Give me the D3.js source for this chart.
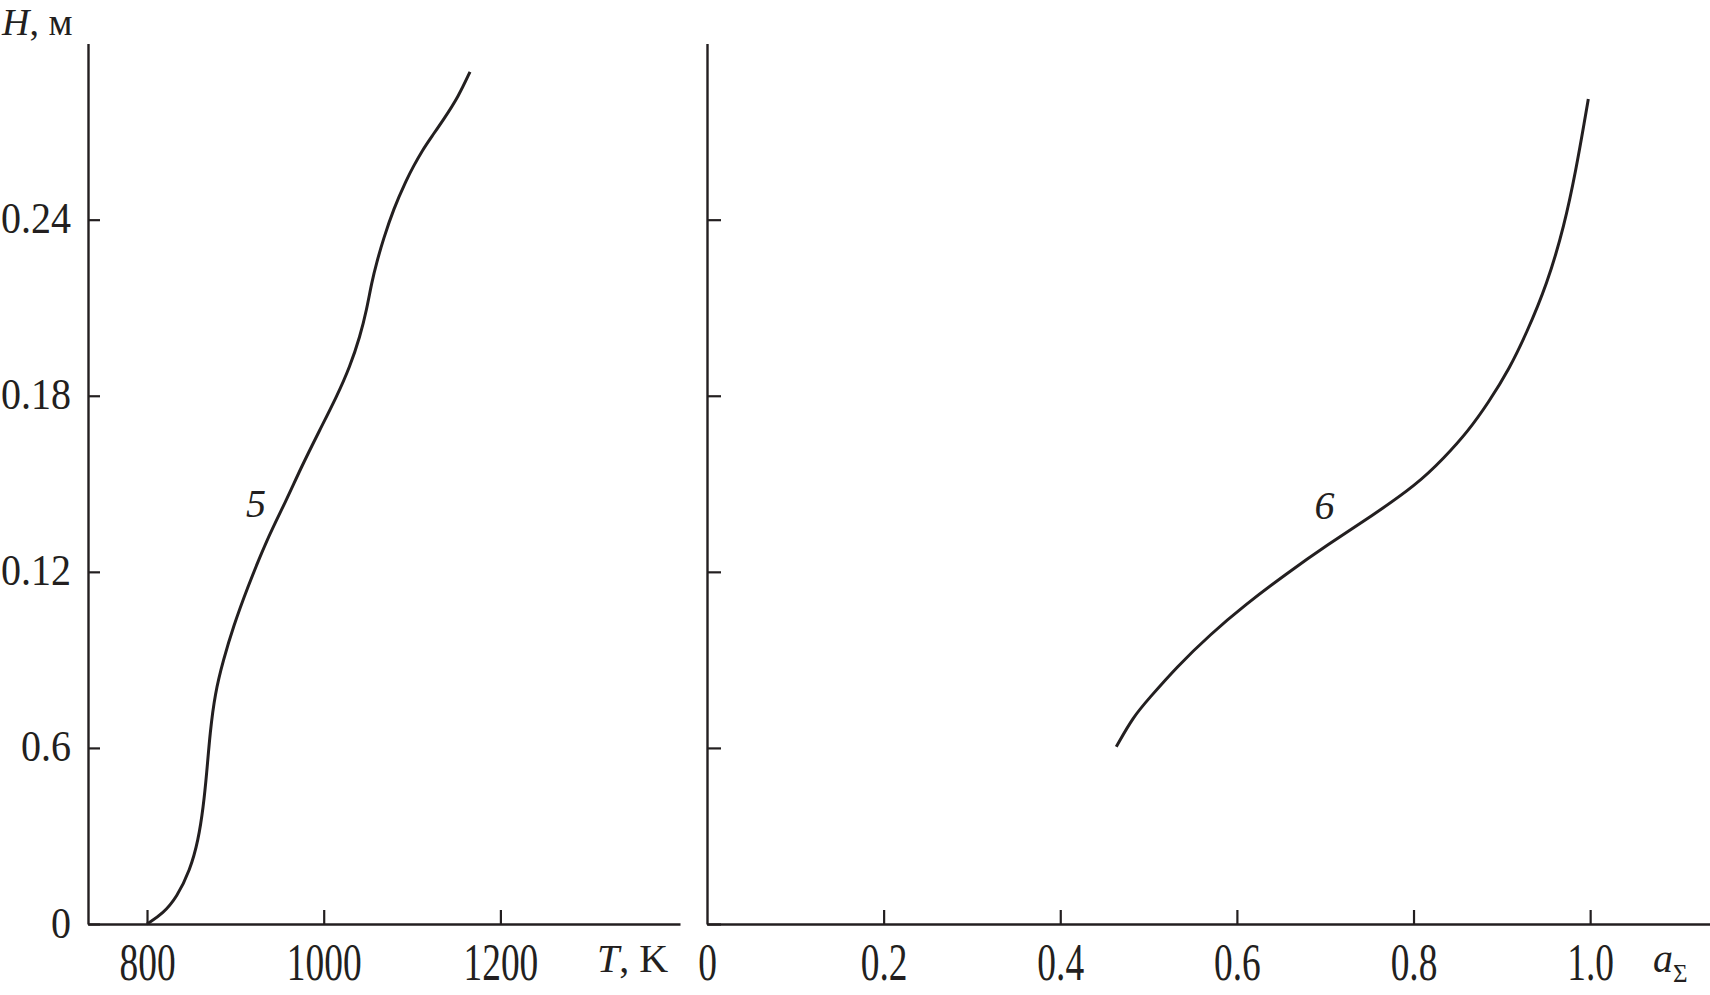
<!DOCTYPE html>
<html>
<head>
<meta charset="utf-8">
<script src="https://cdn.jsdelivr.net/npm/d3@7"></script>
<style>
  html, body { margin: 0; padding: 0; background: #fff; }
  svg { display: block; }
  text { font-family: "Liberation Serif", "Times New Roman", serif; fill: #231f20; }
</style>
</head>
<body>
<svg id="chart" width="1710" height="995"></svg>
<script>
// ---- data ----
const hTicks = [0, 0.06, 0.12, 0.18, 0.24];
const hTickLabels = ["0", "0.6", "0.12", "0.18", "0.24"];
const tTicks = [800, 1000, 1200];
const aTicks = [0, 0.2, 0.4, 0.6, 0.8, 1.0];
const aTickLabels = ["0", "0.2", "0.4", "0.6", "0.8", "1.0"];

// curve 5: temperature T (K) vs height H (m)
const curve5T = [800, 818.5, 833.6, 848.7, 858.1, 863.7, 867.6, 871.3, 877, 886.4, 897.7, 912.8, 935.5, 958.1, 973.2, 995.8, 1014.7, 1029.8, 1041.1, 1048.7, 1054.3, 1060, 1067.5, 1078.8, 1094, 1101.4, 1112.0, 1122.2, 1135.4, 1152.4, 1165.6];
const curve5H = [0, 0.0037, 0.0091, 0.0183, 0.0286, 0.0398, 0.0514, 0.0651, 0.0787, 0.090, 0.1013, 0.1139, 0.131, 0.1446, 0.1548, 0.1685, 0.1797, 0.190, 0.2002, 0.2094, 0.2186, 0.2255, 0.2333, 0.2435, 0.2538, 0.2581, 0.2638, 0.2683, 0.2740, 0.2819, 0.2904];

// curve 6: a_Σ vs height H (m)
const curve6A = [0.4634, 0.4828, 0.5003, 0.5315, 0.5703, 0.6091, 0.6558, 0.7025, 0.753, 0.8035, 0.8346, 0.8618, 0.8851, 0.9085, 0.9279, 0.9512, 0.9707, 0.9843, 0.994, 0.9979];
const curve6H = [0.0604, 0.0707, 0.0768, 0.0875, 0.0988, 0.1087, 0.1193, 0.1292, 0.1391, 0.1497, 0.1588, 0.1679, 0.1778, 0.1892, 0.2013, 0.218, 0.2378, 0.2575, 0.2742, 0.2811];

const curveLabels = [
  { text: "5", panel: "T", x: 912, y: 0.1387 },
  { text: "6", panel: "a", x: 0.688, y: 0.138 }
];

// ---- layout ----
const ink = "#231f20";
const svg = d3.select("#chart");
svg.append("rect").attr("width", 1710).attr("height", 995).attr("fill", "#fff");

const y = d3.scaleLinear().domain([0, 0.30]).range([924, 43.6]);
const xT = d3.scaleLinear().domain([733.2, 1403.3]).range([88, 680]);
const xA = d3.scaleLinear().domain([0, 1.1357]).range([707, 1710]);

function styleAxis(g, w) {
  g.select(".domain").attr("stroke", ink).attr("stroke-width", w);
  g.selectAll(".tick line").attr("stroke", ink).attr("stroke-width", 2.2);
}

// left y axis
const gy1 = svg.append("g").attr("transform", `translate(${xT.range()[0]},0)`)
  .call(d3.axisLeft(y).tickValues(hTicks).tickSize(-12).tickSizeOuter(0).tickPadding(17)
    .tickFormat((d, i) => hTickLabels[i]));
styleAxis(gy1, 2.4);
gy1.selectAll(".tick text")
  .attr("font-size", 44)
  .attr("x", -17 / 0.91)
  .attr("dy", null).attr("y", 13)
  .attr("transform", "scale(0.91,1)")
  .attr("fill", ink)
  .style("font-family", "'Liberation Serif', serif");

// right panel y axis (no labels)
const gy2 = svg.append("g").attr("transform", `translate(${xA.range()[0]},0)`)
  .call(d3.axisLeft(y).tickValues(hTicks).tickSize(-14).tickSizeOuter(0).tickFormat(""));
styleAxis(gy2, 2.4);

// left x axis
const gx1 = svg.append("g").attr("transform", `translate(0,${y(0)})`)
  .call(d3.axisBottom(xT).tickValues(tTicks).tickSize(-14).tickSizeOuter(0).tickFormat(d3.format("d")));
styleAxis(gx1, 2.4);
gx1.selectAll(".tick text")
  .attr("font-size", 52).attr("dy", null).attr("y", 56)
  .attr("transform", "scale(0.72,1)").attr("fill", ink)
  .style("font-family", "'Liberation Serif', serif");

// right x axis
const gx2 = svg.append("g").attr("transform", `translate(0,${y(0)})`)
  .call(d3.axisBottom(xA).tickValues(aTicks).tickSize(-14).tickSizeOuter(0)
    .tickFormat((d, i) => aTickLabels[i]));
styleAxis(gx2, 2.4);
gx2.selectAll(".tick line").filter(d => d === 0).remove();
gx2.selectAll(".tick text")
  .attr("font-size", 52).attr("dy", null).attr("y", 56)
  .attr("transform", "scale(0.72,1)").attr("fill", ink)
  .style("font-family", "'Liberation Serif', serif");

// axis titles
const hTitle = svg.append("text").attr("x", 2).attr("y", 35).attr("font-size", 38);
hTitle.append("tspan").attr("font-style", "italic").text("H");
hTitle.append("tspan").text(", м");

const tTitle = svg.append("text").attr("x", 597).attr("y", 972).attr("font-size", 40);
tTitle.append("tspan").attr("font-style", "italic").text("T");
tTitle.append("tspan").text(", K");

const aTitle = svg.append("text").attr("x", 1653).attr("y", 972).attr("font-size", 40);
aTitle.append("tspan").attr("font-style", "italic").text("a");
aTitle.append("tspan").attr("font-size", 25).attr("dy", 10).text("Σ");

// curves
const line5 = d3.line().x(d => xT(d[0])).y(d => y(d[1])).curve(d3.curveBasis);
const line6 = d3.line().x(d => xA(d[0])).y(d => y(d[1])).curve(d3.curveBasis);

svg.append("path").datum(d3.zip(curve5T, curve5H))
  .attr("d", line5).attr("fill", "none").attr("stroke", ink).attr("stroke-width", 3);
svg.append("path").datum(d3.zip(curve6A, curve6H))
  .attr("d", line6).attr("fill", "none").attr("stroke", ink).attr("stroke-width", 3);

// curve labels
svg.selectAll("text.clabel").data(curveLabels).enter().append("text")
  .attr("class", "clabel")
  .attr("x", d => d.panel === "T" ? xT(d.x) : xA(d.x))
  .attr("y", d => y(d.y))
  .attr("font-size", 40).attr("font-style", "italic")
  .text(d => d.text);
</script>
</body>
</html>
